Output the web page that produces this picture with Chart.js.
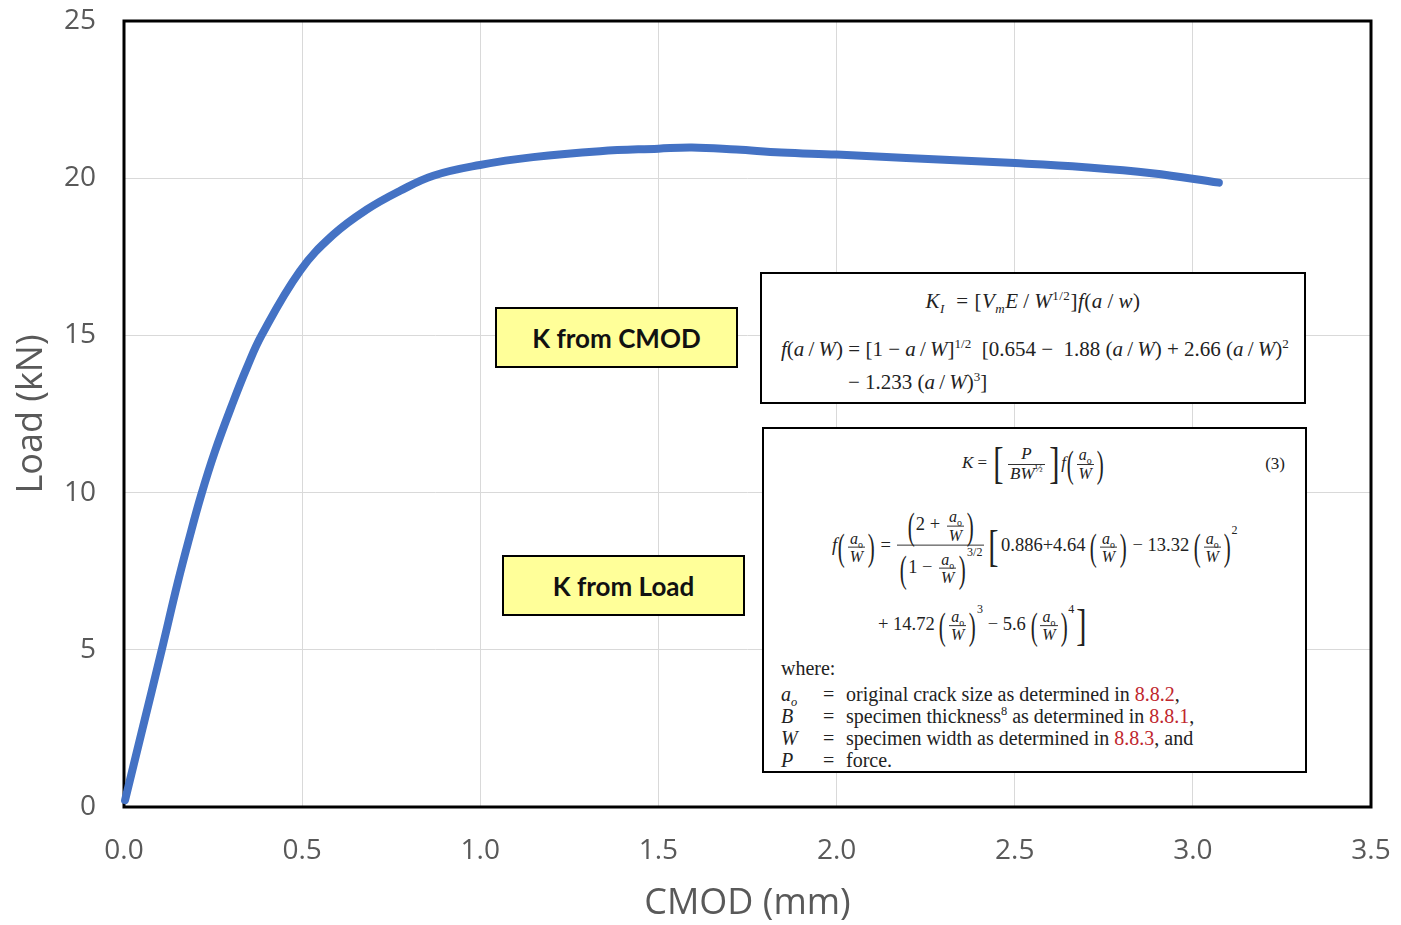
<!DOCTYPE html>
<html>
<head>
<meta charset="utf-8">
<script src="https://cdn.jsdelivr.net/npm/chart.js@4.4.1/dist/chart.umd.min.js"></script>
<style>
body { margin: 0; background: #fff; }
#wrap { position: relative; width: 1401px; height: 925px; }
.tag { position: absolute; background: #ffff99; border: 2px solid #000; box-sizing: border-box;
       font: bold 26px Lato, "Open Sans", sans-serif; color: #111;
       display: flex; align-items: center; justify-content: center; }
.eq { position: absolute; background: #fff; border: 2.5px solid #000; box-sizing: border-box;
      font-family: "Liberation Serif", "DejaVu Serif", serif; color: #222; }
.eq .ln { position: absolute; white-space: nowrap; transform: translateY(-50%); }
.eq sup, .eq sub { font-size: 0.62em; line-height: 0; }
.frac { display: inline-flex; flex-direction: column; align-items: center; vertical-align: middle; margin: 0 2px; }
.frac > span { display: block; line-height: 1.08; padding: 0 2px; }
.frac > span + span { border-top: 1px solid #333; }
.sm { font-size: 16px; }
.br { font-size: 44px; line-height: 1; font-weight: 100; display: inline-block; vertical-align: middle; transform: scaleX(0.7); }
.pr { font-size: 38px; line-height: 1; display: inline-block; vertical-align: middle; transform: scaleX(0.55); margin: 0 -2px; }
.hi { vertical-align: 17px; font-size: 12px; }
.red { color: #c0262d; }
.defs { position: absolute; left: 17px; top: 254px; font-size: 20px; line-height: 22px; }
.defs td { padding: 0; }
</style>
</head>
<body>
<div id="wrap">
  <canvas id="chart" width="1401" height="925"></canvas>

  <div class="tag" style="left:495px;top:307px;width:243px;height:61px;">K from CMOD</div>
  <div class="tag" style="left:502px;top:555px;width:243px;height:61px;">K from Load</div>

  <div class="eq" style="left:760px;top:272px;width:546px;height:132px;font-size:21px;">
    <div class="ln" style="left:0;right:0;top:27px;text-align:center;letter-spacing:0.5px;">
      <i>K</i><sub><i>I</i></sub>&nbsp;&nbsp;= [<i>V</i><sub><i>m</i></sub><i>E</i>&thinsp;/&thinsp;<i>W</i><sup>1/2</sup>]<i>f</i>(<i>a</i>&thinsp;/&thinsp;<i>w</i>)
    </div>
    <div class="ln" style="left:19px;top:75px;">
      <i>f</i>(<i>a</i>&thinsp;/&thinsp;<i>W</i>) = [1 − <i>a</i>&thinsp;/&thinsp;<i>W</i>]<sup>1/2</sup>&nbsp; [0.654 − &nbsp;1.88 (<i>a</i>&thinsp;/&thinsp;<i>W</i>) + 2.66 (<i>a</i>&thinsp;/&thinsp;<i>W</i>)<sup>2</sup>
    </div>
    <div class="ln" style="left:86px;top:108px;">
      − 1.233 (<i>a</i>&thinsp;/&thinsp;<i>W</i>)<sup>3</sup>]
    </div>
  </div>

  <div class="eq" style="left:762px;top:427px;width:545px;height:346px;font-size:17px;">
    <div class="ln" style="left:198px;top:35px;">
      <i>K</i>&nbsp;=&nbsp;<span class="br">[</span><span class="frac"><span><i>P</i></span><span><i>BW</i><sup>½</sup></span></span><span class="br">]</span><i>f</i><span class="pr">(</span><span class="frac sm"><span><i>a</i><sub>o</sub></span><span><i>W</i></span></span><span class="pr">)</span>
    </div>
    <div class="ln" style="right:20px;top:35px;">(3)</div>

    <div class="ln" style="left:68px;top:118px;font-size:18.5px;">
      <i>f</i><span class="pr">(</span><span class="frac sm"><span><i>a</i><sub>o</sub></span><span><i>W</i></span></span><span class="pr">)</span>&nbsp;=&nbsp;<span class="frac"><span><span class="pr">(</span>2 + <span class="frac sm"><span><i>a</i><sub>o</sub></span><span><i>W</i></span></span><span class="pr">)</span></span><span><span class="pr">(</span>1 − <span class="frac sm"><span><i>a</i><sub>o</sub></span><span><i>W</i></span></span><span class="pr">)</span><span class="hi">3/2</span></span></span><span class="br">[</span>0.886+4.64&thinsp;<span class="pr">(</span><span class="frac sm"><span><i>a</i><sub>o</sub></span><span><i>W</i></span></span><span class="pr">)</span>&nbsp;− 13.32&thinsp;<span class="pr">(</span><span class="frac sm"><span><i>a</i><sub>o</sub></span><span><i>W</i></span></span><span class="pr">)</span><span class="hi">2</span>
    </div>

    <div class="ln" style="left:114px;top:196px;font-size:18.5px;">
      + 14.72&thinsp;<span class="pr">(</span><span class="frac sm"><span><i>a</i><sub>o</sub></span><span><i>W</i></span></span><span class="pr">)</span><span class="hi">3</span>&nbsp;− 5.6&thinsp;<span class="pr">(</span><span class="frac sm"><span><i>a</i><sub>o</sub></span><span><i>W</i></span></span><span class="pr">)</span><span class="hi">4</span><span class="br">]</span>
    </div>

    <div class="ln" style="left:17px;top:239px;font-size:20px;">where:</div>
    <table class="defs" cellspacing="0">
      <tr><td style="width:42px;"><i>a</i><sub><i>o</i></sub></td><td style="width:23px;">=</td><td>original crack size as determined in <span class="red">8.8.2</span>,</td></tr>
      <tr><td><i>B</i></td><td>=</td><td>specimen thickness<sup>8</sup> as determined in <span class="red">8.8.1</span>,</td></tr>
      <tr><td><i>W</i></td><td>=</td><td>specimen width as determined in <span class="red">8.8.3</span>, and</td></tr>
      <tr><td><i>P</i></td><td>=</td><td>force.</td></tr>
    </table>
  </div>
</div>

<script>
// CMOD (mm) vs load (kN)
const cmod = [0.003, 0.050, 0.106, 0.150, 0.182, 0.216, 0.255, 0.307, 0.344, 0.386, 0.494, 0.587,
              0.681, 0.775, 0.868, 0.999, 1.148, 1.336, 1.5, 1.594, 1.719, 1.845, 2.0, 2.196, 2.5, 2.697, 2.885, 3.073];
const load = [0.22, 2.4, 5.0, 7.1, 8.5, 9.9, 11.3, 12.9, 13.95, 15.0, 17.05, 18.2,
              19.0, 19.6, 20.08, 20.42, 20.67, 20.86, 20.94, 20.98, 20.91, 20.82, 20.75, 20.64, 20.48, 20.35, 20.16, 19.86];

const xTicks = [0, 0.5, 1.0, 1.5, 2.0, 2.5, 3.0, 3.5];
const yTicks = [0, 5, 10, 15, 20, 25];

const tickFont = { family: "'Open Sans', sans-serif", size: 28 };
const titleFont = { family: "'Open Sans', sans-serif", size: 36 };
const grey = '#595959';

// black frame around the plot area
const framePlugin = {
    id: 'frame',
    beforeDatasetsDraw(chart) {
        const { ctx, chartArea: a } = chart;
        ctx.save();
        ctx.strokeStyle = '#000';
        ctx.lineWidth = 3;
        ctx.strokeRect(a.left, a.top, a.right - a.left, a.bottom - a.top);
        ctx.restore();
    }
};

new Chart(document.getElementById('chart'), {
    type: 'scatter',
    data: {
        datasets: [{
            data: cmod.map((x, i) => ({ x, y: load[i] })),
            showLine: true,
            borderColor: '#4472c4',
            borderWidth: 8,
            borderCapStyle: 'round',
            borderJoinStyle: 'round',
            pointRadius: 0,
            tension: 0.4,
            clip: false
        }]
    },
    options: {
        responsive: false,
        animation: false,
        layout: { padding: { top: 21, right: 30, left: 0, bottom: 0 } },
        plugins: { legend: { display: false }, tooltip: { enabled: false } },
        scales: {
            x: {
                type: 'linear', min: 0, max: 3.5,
                afterBuildTicks: s => { s.ticks = xTicks.map(v => ({ value: v })); },
                afterFit: s => { s.height = 118; s.paddingLeft = 0; s.paddingRight = 0; },
                grid: { color: '#d9d9d9', drawTicks: false },
                border: { display: false },
                ticks: { color: grey, font: tickFont, padding: 27, callback: v => v.toFixed(1) },
                title: { display: true, text: 'CMOD (mm)', color: grey, font: titleFont, padding: { top: 0, bottom: 0 } }
            },
            y: {
                type: 'linear', min: 0, max: 25,
                afterBuildTicks: s => { s.ticks = yTicks.map(v => ({ value: v })); },
                afterFit: s => { s.width = 124; s.paddingTop = 0; s.paddingBottom = 0; },
                grid: { color: '#d9d9d9', drawTicks: false },
                border: { display: false },
                ticks: { color: grey, font: tickFont, padding: 28 },
                title: { display: true, text: 'Load (kN)', color: grey, font: titleFont, padding: { top: 10, bottom: 0 } }
            }
        }
    },
    plugins: [framePlugin]
});
</script>
</body>
</html>
